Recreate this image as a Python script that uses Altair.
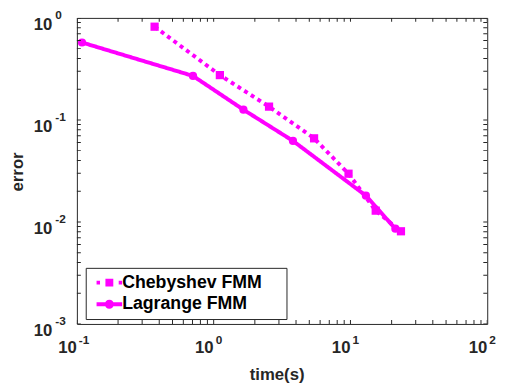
import altair as alt
import pandas as pd

# ---------------- data ----------------
series_names = ["Chebyshev FMM", "Lagrange FMM"]
cheb_time = [0.37, 1.11, 2.54, 5.42, 9.68, 15.3, 23.4]
cheb_error = [0.82, 0.275, 0.135, 0.066, 0.0297, 0.0129, 0.0081]
lag_time = [0.109, 0.706, 1.65, 3.8, 12.97, 21.3]
lag_error = [0.574, 0.27, 0.126, 0.0623, 0.0181, 0.00858]

x_tick_values = [0.1, 1, 10, 100]
x_tick_exponents = ["-1", "0", "1", "2"]
y_tick_values = [0.001, 0.01, 0.1, 1]
y_tick_exponents = ["-3", "-2", "-1", "0"]
tick_base = "10"
minor_multiples = [1, 2, 3, 4, 5, 6, 7, 8, 9]

# ---------------- styling ----------------
MAG = "#ff00ff"
DARK = "#262626"
FONT = "Liberation Sans"
W, H = 417, 311

df = pd.concat([
    pd.DataFrame({"series": series_names[0], "time": cheb_time, "error": cheb_error}),
    pd.DataFrame({"series": series_names[1], "time": lag_time, "error": lag_error}),
])

x_minor = [d * m for d in x_tick_values[:-1] for m in minor_multiples] + [x_tick_values[-1]]
y_minor = [d * m for d in y_tick_values[:-1] for m in minor_multiples] + [y_tick_values[-1]]

xscale = alt.Scale(type="log", domain=[x_tick_values[0], x_tick_values[-1]], nice=False)
yscale = alt.Scale(type="log", domain=[y_tick_values[0], y_tick_values[-1]], nice=False)

xaxis = alt.Axis(
    labels=False, ticks=False, tickSize=0, grid=False, domain=False,
    title="time(s)", titleFont=FONT, titleFontSize=17, titleFontWeight="bold",
    titleColor=DARK, titleX=203, titleY=56, titleBaseline="alphabetic", titleAlign="center",
)
yaxis = alt.Axis(
    labels=False, ticks=False, tickSize=0, grid=False, domain=False,
    title="error", titleFont=FONT, titleFontSize=17, titleFontWeight="bold",
    titleColor=DARK, titleX=-55, titleY=156, titleBaseline="alphabetic", titleAlign="center",
    titleAngle=270,
)

# legend symbols: line + marker drawn as custom paths (units scaled by sqrt(size)/2 = 4px)
lag_path = ("M-1,-0.5H5.5V0.5H-1Z "
            "M1.1,0A1.15,1.15 0 1,1 3.4,0A1.15,1.15 0 1,1 1.1,0Z")
cheb_path = ("M-1,-0.5H-0.125V0.5H-1Z "
             "M1.25,-1H3.25V1H1.25Z "
             "M4.625,-0.5H5.5V0.5H4.625Z")

legend = alt.Legend(
    title=None, orient="none", legendX=9, legendY=254,
    strokeColor=DARK, fillColor="white", padding=6, cornerRadius=0,
    labelFont=FONT, labelFontSize=18, labelFontWeight="bold", labelColor="black",
    symbolSize=64, labelOffset=13, rowPadding=4, symbolOpacity=1,
    symbolFillColor=MAG, symbolStrokeWidth=0, labelLimit=400,
    labelExpr="datum.label + '\u00a0\u2800'",
)

lines = alt.Chart(df).mark_line(strokeWidth=4, strokeCap="butt", color=MAG).encode(
    x=alt.X("time:Q", scale=xscale, axis=xaxis),
    y=alt.Y("error:Q", scale=yscale, axis=yaxis),
    detail="series:N",
    strokeDash=alt.StrokeDash("series:N", scale=alt.Scale(domain=series_names, range=[[4, 4], [1, 0]]), legend=None),
)

points = alt.Chart(df).mark_point(filled=True, size=70, opacity=1, color=MAG).encode(
    x=alt.X("time:Q", scale=xscale, axis=xaxis),
    y=alt.Y("error:Q", scale=yscale, axis=yaxis),
    shape=alt.Shape("series:N", scale=alt.Scale(domain=series_names, range=["square", "circle"]), legend=None),
)

legend_layer = alt.Chart(df).transform_filter("false").mark_point(
    filled=True, opacity=1, color=MAG, size=64
).encode(
    shape=alt.Shape("series:N", scale=alt.Scale(domain=series_names, range=[cheb_path, lag_path]), legend=legend),
)

tx = pd.DataFrame({"v": x_minor})
ty = pd.DataFrame({"v": y_minor})
tick_style = dict(clip=True, size=8, thickness=1, color=DARK, opacity=1)

tick_bottom = alt.Chart(tx).mark_tick(**tick_style).encode(
    x=alt.X("v:Q", scale=xscale, axis=xaxis), y=alt.value(H))
tick_top = alt.Chart(tx).mark_tick(**tick_style).encode(
    x=alt.X("v:Q", scale=xscale, axis=xaxis), y=alt.value(0))
tick_left = alt.Chart(ty).mark_tick(**tick_style).encode(
    y=alt.Y("v:Q", scale=yscale, axis=yaxis), x=alt.value(0))
tick_right = alt.Chart(ty).mark_tick(**tick_style).encode(
    y=alt.Y("v:Q", scale=yscale, axis=yaxis), x=alt.value(W))

# tick labels "10" with superscript exponents
xl = pd.DataFrame({"v": x_tick_values, "e": x_tick_exponents, "b": tick_base})
yl = pd.DataFrame({"v": y_tick_values, "e": y_tick_exponents, "b": tick_base})
lab = dict(font=FONT, fontWeight="bold", color=DARK, baseline="alphabetic")

x_base = alt.Chart(xl).mark_text(align="right", dx=0, dy=30, fontSize=17, **lab).encode(
    x=alt.X("v:Q", scale=xscale, axis=xaxis), y=alt.value(H), text="b:N")
x_exp = alt.Chart(xl).mark_text(align="left", dx=2, dy=20, fontSize=12, **lab).encode(
    x=alt.X("v:Q", scale=xscale, axis=xaxis), y=alt.value(H), text="e:N")
y_base = alt.Chart(yl).mark_text(align="right", dx=-25, dy=12, fontSize=17, **lab).encode(
    y=alt.Y("v:Q", scale=yscale, axis=yaxis), x=alt.value(0), text="b:N")
y_exp = alt.Chart(yl).mark_text(align="left", dx=-22, dy=1, fontSize=12, **lab).encode(
    y=alt.Y("v:Q", scale=yscale, axis=yaxis), x=alt.value(0), text="e:N")

chart = alt.layer(
    lines, points, legend_layer, tick_bottom, tick_top, tick_left, tick_right,
    x_base, x_exp, y_base, y_exp
).resolve_scale(shape="independent").properties(
    width=W, height=H,
    padding={"left": 70, "top": 7, "right": 15, "bottom": 61},
    autosize=alt.AutoSizeParams(type="none"),
    background="white",
).configure_view(stroke=DARK, strokeWidth=1)

chart.save("out.html", embed_options={"renderer": "svg", "actions": False})
